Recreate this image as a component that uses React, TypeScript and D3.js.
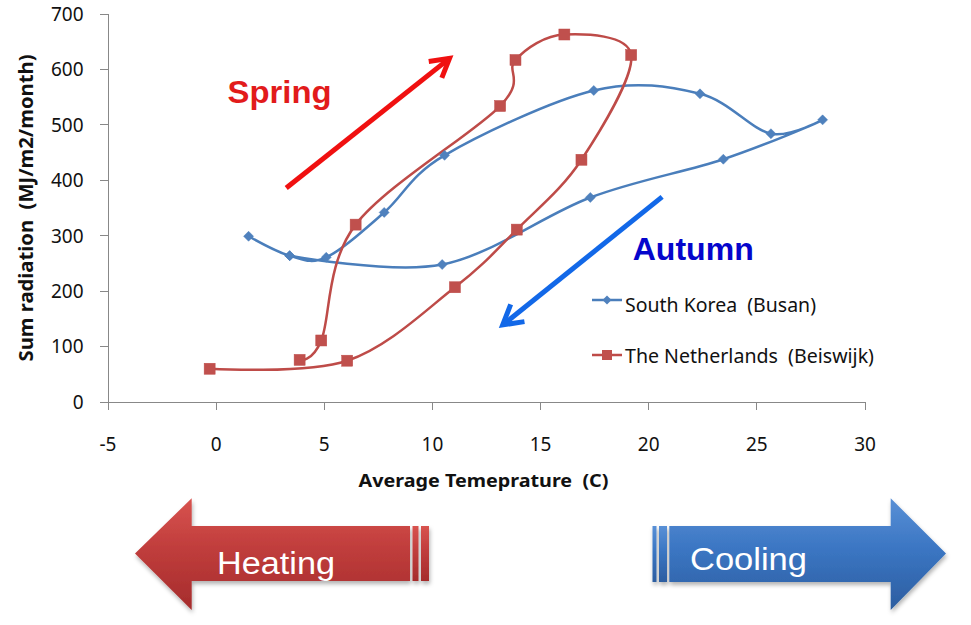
import React from "react";
import * as d3 from "d3";

// ---- Data ----
const koreaTemp = [1.5, 3.4, 5.09, 7.77, 10.56, 17.46, 22.37, 25.65, 28.04, 23.45, 17.3, 10.45, 3.4];
const koreaRad = [299, 264, 261, 342, 445, 562, 556, 484, 509, 438, 369, 248, 264];
const nlTemp = [3.86, 4.86, 6.45, 13.13, 13.84, 16.1, 19.19, 16.89, 13.9, 11.04, 6.06, -0.3];
const nlRad = [76, 111, 320, 534, 617, 663, 626, 437, 311, 207, 74.5, 60];
const seriesNames = ["South Korea  (Busan)", "The Netherlands  (Beiswijk)"];
const xTicks = [-5, 0, 5, 10, 15, 20, 25, 30];
const yTicks = [0, 100, 200, 300, 400, 500, 600, 700];
const xTitle = "Average Temeprature  (C)";
const yTitle = "Sum radiation  (MJ/m2/month)";
// annotation arrows in data units: [fromTemp, fromRad, toTemp, toRad]
const springArrow = [3.24, 386, 10.79, 620];
const autumnArrow = [20.62, 370, 13.25, 139];
const springLabel = [0.53, 539];
const autumnLabel = [19.26, 256.5];

const W = 971;
const H = 625;
const FONT = "'Noto Sans', 'Open Sans', sans-serif";

const x = d3.scaleLinear().domain([-5, 30]).range([108, 865]);
const y = d3.scaleLinear().domain([0, 700]).range([402, 14]);

const line = d3
  .line<[number, number]>()
  .x((d) => x(d[0]))
  .y((d) => y(d[1]))
  .curve(d3.curveCardinal.tension(0));

function zip(a: number[], b: number[]): [number, number][] {
  return a.map((v, i) => [v, b[i]]);
}

function arrowPaths(a: number[], len: number, ang: number) {
  const x1 = x(a[0]);
  const y1 = y(a[1]);
  const x2 = x(a[2]);
  const y2 = y(a[3]);
  const theta = Math.atan2(y1 - y2, x1 - x2);
  const h1 = [x2 + len * Math.cos(theta + ang), y2 + len * Math.sin(theta + ang)];
  const h2 = [x2 + len * Math.cos(theta - ang), y2 + len * Math.sin(theta - ang)];
  return {
    shaft: `M${x1},${y1}L${x2},${y2}`,
    head: `M${h1[0]},${h1[1]}L${x2},${y2}L${h2[0]},${h2[1]}`,
  };
}

const pre = (s: string) => s.replace(/ {2}/g, "\u00a0 ");

export default function App() {
  const korea = zip(koreaTemp, koreaRad);
  const nl = zip(nlTemp, nlRad);
  const sa = arrowPaths(springArrow, 21, (30 * Math.PI) / 180);
  const aa = arrowPaths(autumnArrow, 22, (30 * Math.PI) / 180);
  const blueLine = "#4A7EBB";
  const blueFill = "#4F81BD";
  const redLine = "#BE4B48";
  const redFill = "#C0504D";
  const diamond = (cx: number, cy: number, r: number) =>
    `M${cx},${cy - r}L${cx + r},${cy}L${cx},${cy + r}L${cx - r},${cy}Z`;

  return (
    <svg
      width={W}
      height={H}
      viewBox={`0 0 ${W} ${H}`}
      style={{ position: "absolute", left: 0, top: 0, background: "#fff" }}
    >
      <defs>
        <linearGradient id="heatGrad" x1="0" y1="0" x2="0" y2="1">
          <stop offset="0%" stopColor="#d8534f" />
          <stop offset="45%" stopColor="#c03d3c" />
          <stop offset="100%" stopColor="#a52c2c" />
        </linearGradient>
        <linearGradient id="coolGrad" x1="0" y1="0" x2="0" y2="1">
          <stop offset="0%" stopColor="#5990d6" />
          <stop offset="45%" stopColor="#3b76c3" />
          <stop offset="100%" stopColor="#2c5da0" />
        </linearGradient>
        <filter id="shadow" x="-10%" y="-10%" width="130%" height="140%">
          <feDropShadow dx="1" dy="3" stdDeviation="2" floodColor="#000" floodOpacity="0.3" />
        </filter>
      </defs>
      <rect x={0} y={0} width={W} height={H} fill="#fff" />

      {/* Axes */}
      <g stroke="#888" strokeWidth={1} fill="none" shapeRendering="crispEdges">
        <line x1={x(-5)} y1={y(0)} x2={x(-5)} y2={y(700)} />
        <line x1={x(-5)} y1={y(0)} x2={x(30)} y2={y(0)} />
        {yTicks.map((t) => (
          <line key={"yt" + t} x1={x(-5) - 8} x2={x(-5)} y1={y(t)} y2={y(t)} />
        ))}
        {xTicks.map((t) => (
          <line key={"xt" + t} x1={x(t)} x2={x(t)} y1={y(0)} y2={y(0) + 8} />
        ))}
      </g>
      <g fontFamily={FONT} fontSize={19} fill="#111">
        {yTicks.map((t) => (
          <text key={"yl" + t} x={83.5} y={y(t)} dy="0.36em" textAnchor="end">
            {t}
          </text>
        ))}
        {xTicks.map((t) => (
          <text key={"xl" + t} x={x(t)} y={451} textAnchor="middle">
            {t}
          </text>
        ))}
      </g>
      <text
        x={483.5}
        y={487}
        textAnchor="middle"
        fontFamily={FONT}
        fontWeight="bold"
        fontSize={17}
        fill="#111"
        textLength={250}
        lengthAdjust="spacingAndGlyphs"
      >
        {pre(xTitle)}
      </text>
      <text
        transform={`translate(32.5,${208}) rotate(-90)`}
        textAnchor="middle"
        fontFamily={FONT}
        fontWeight="bold"
        fontSize={19}
        fill="#111"
        textLength={307}
        lengthAdjust="spacingAndGlyphs"
      >
        {pre(yTitle)}
      </text>

      {/* Series lines */}
      <path d={line(korea) || ""} fill="none" stroke={blueLine} strokeWidth={2.5} />
      <path d={line(nl) || ""} fill="none" stroke={redLine} strokeWidth={2.5} />
      {korea.map((d, i) => (
        <path key={"k" + i} d={diamond(x(d[0]), y(d[1]), 5)} fill={blueFill} stroke={blueLine} strokeWidth={0.5} />
      ))}
      {nl.map((d, i) => (
        <rect
          key={"n" + i}
          x={x(d[0]) - 5.5}
          y={y(d[1]) - 5.5}
          width={11}
          height={11}
          fill={redFill}
          stroke={redLine}
          strokeWidth={0.5}
        />
      ))}

      {/* Annotations */}
      <g fill="none" stroke="#f01010" strokeWidth={5} strokeLinejoin="miter">
        <path d={sa.shaft} />
        <path d={sa.head} />
      </g>
      <g fill="none" stroke="#1268e8" strokeWidth={5} strokeLinejoin="miter">
        <path d={aa.shaft} />
        <path d={aa.head} />
      </g>
      <text
        x={x(springLabel[0])}
        y={y(springLabel[1])}
        fontFamily="'Liberation Sans', Arial, sans-serif"
        fontWeight="bold"
        fontSize={32}
        fill="#e21b1b"
        textLength={104}
        lengthAdjust="spacingAndGlyphs"
      >
        Spring
      </text>
      <text
        x={x(autumnLabel[0])}
        y={y(autumnLabel[1])}
        fontFamily="'Liberation Sans', Arial, sans-serif"
        fontWeight="bold"
        fontSize={32}
        fill="#0505cc"
        textLength={121}
        lengthAdjust="spacingAndGlyphs"
      >
        Autumn
      </text>

      {/* Legend */}
      <g fontFamily={FONT} fontSize={19} fill="#111">
        <line x1={592} x2={622} y1={300} y2={300} stroke={blueLine} strokeWidth={2.5} />
        <path d={diamond(607, 300, 4.5)} fill={blueFill} />
        <text x={625} y={311.5} textLength={191} lengthAdjust="spacingAndGlyphs">
          {pre(seriesNames[0])}
        </text>
        <line x1={592} x2={622} y1={355} y2={355} stroke={redLine} strokeWidth={2.5} />
        <rect x={602} y={350} width={10} height={10} fill={redFill} />
        <text x={625} y={363} textLength={249} lengthAdjust="spacingAndGlyphs">
          {pre(seriesNames[1])}
        </text>
      </g>

      {/* Heating arrow */}
      <g filter="url(#shadow)">
        <path
          d="M135,553.5L191.7,498.3L191.7,526L410,526L410,581L191.7,581L191.7,610Z"
          fill="url(#heatGrad)"
        />
        <rect x={412.5} y={526} width={6} height={55} fill="url(#heatGrad)" />
        <rect x={421} y={526} width={8} height={55} fill="url(#heatGrad)" />
      </g>
      <text
        x={217}
        y={573.5}
        fontFamily="'Liberation Sans', Arial, sans-serif"
        fontSize={31}
        fill="#fff"
        textLength={118}
        lengthAdjust="spacingAndGlyphs"
      >
        Heating
      </text>

      {/* Cooling arrow */}
      <g filter="url(#shadow)">
        <rect x={652.5} y={526} width={4} height={56} fill="url(#coolGrad)" />
        <rect x={659} y={526} width={8} height={56} fill="url(#coolGrad)" />
        <path
          d="M669.3,526L890.7,526L890.7,498.3L946,553.5L890.7,610L890.7,582L669.3,582Z"
          fill="url(#coolGrad)"
        />
      </g>
      <text
        x={690}
        y={569.5}
        fontFamily="'Liberation Sans', Arial, sans-serif"
        fontSize={32}
        fill="#fff"
        textLength={117}
        lengthAdjust="spacingAndGlyphs"
      >
        Cooling
      </text>
    </svg>
  );
}
